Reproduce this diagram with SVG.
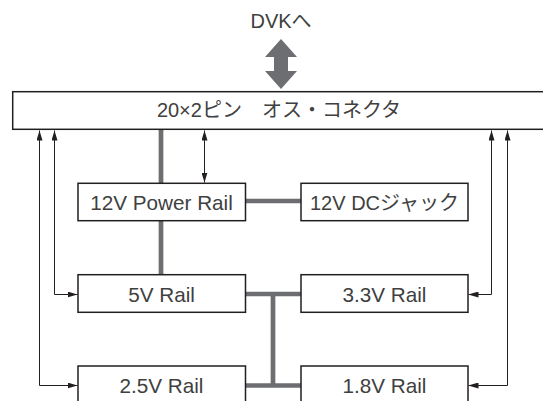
<svg xmlns="http://www.w3.org/2000/svg" width="543" height="401" viewBox="0 0 543 401">
<style>
.box{fill:#fff;stroke:#231f20;stroke-width:1.5}
.t{font-family:"Liberation Sans","Noto Sans CJK JP",sans-serif;font-size:20px;fill:#404040;text-anchor:middle}
.l{font-size:20.7px}
.thick{stroke:#6d6e71;stroke-width:4.7;fill:none}
.thin{stroke:#231f20;stroke-width:1;fill:none}
</style>
<defs>
<marker id="ah" markerUnits="userSpaceOnUse" markerWidth="10" markerHeight="6" refX="10" refY="3" orient="auto-start-reverse">
<path d="M0,0 L10,3 L0,6 z" fill="#231f20"/>
</marker>
</defs>
<g id="connectors">
<polygon points="281,39 297,57 288,57 288,71 297,71 281,89 265,71 274,71 274,57 265,57" fill="#6d6e71"/>
<line class="thick" x1="161" y1="129" x2="161" y2="184"/>
<line class="thick" x1="161" y1="220" x2="161" y2="275"/>
<line class="thick" x1="245" y1="201" x2="301" y2="201"/>
<line class="thick" x1="245" y1="294" x2="301" y2="294"/>
<line class="thick" x1="245" y1="385.5" x2="301" y2="385.5"/>
<line class="thick" x1="273" y1="294" x2="273" y2="385.5"/>
<line class="thin" x1="204.5" y1="130.5" x2="204.5" y2="182.5" marker-start="url(#ah)" marker-end="url(#ah)"/>
<polyline class="thin" points="39.5,130.5 39.5,385.5 77.5,385.5" marker-start="url(#ah)" marker-end="url(#ah)"/>
<polyline class="thin" points="54.5,130.5 54.5,294.5 77.5,294.5" marker-start="url(#ah)" marker-end="url(#ah)"/>
<polyline class="thin" points="491.5,130.5 491.5,294.5 468.5,294.5" marker-start="url(#ah)" marker-end="url(#ah)"/>
<polyline class="thin" points="507.5,130.5 507.5,385.5 468.5,385.5" marker-start="url(#ah)" marker-end="url(#ah)"/>
</g>
<g id="dvk"><text class="t" x="281" y="27.5">DVKへ</text></g>
<g id="connector"><rect class="box" x="12.7" y="91.7" width="560" height="37.6"/><text class="t" x="279" y="116.5">20×2ピン　オス・コネクタ</text></g>
<g id="rail12"><rect class="box" x="78" y="183.3" width="167.5" height="37.4"/><text class="t l" x="161.5" y="210">12V Power Rail</text></g>
<g id="dcjack"><rect class="box" x="301" y="183.3" width="167" height="37.4"/><text class="t" x="384.5" y="210">12V DCジャック</text></g>
<g id="rail5"><rect class="box" x="78" y="274.7" width="167.5" height="37.6"/><text class="t l" x="161.5" y="301.5">5V Rail</text></g>
<g id="rail33"><rect class="box" x="301" y="274.7" width="167" height="37.6"/><text class="t l" x="384.5" y="301.5">3.3V Rail</text></g>
<g id="rail25"><rect class="box" x="78" y="366" width="167.5" height="37.6"/><text class="t l" x="161.5" y="393">2.5V Rail</text></g>
<g id="rail18"><rect class="box" x="301" y="366" width="167" height="37.6"/><text class="t l" x="384.5" y="393">1.8V Rail</text></g>
</svg>
